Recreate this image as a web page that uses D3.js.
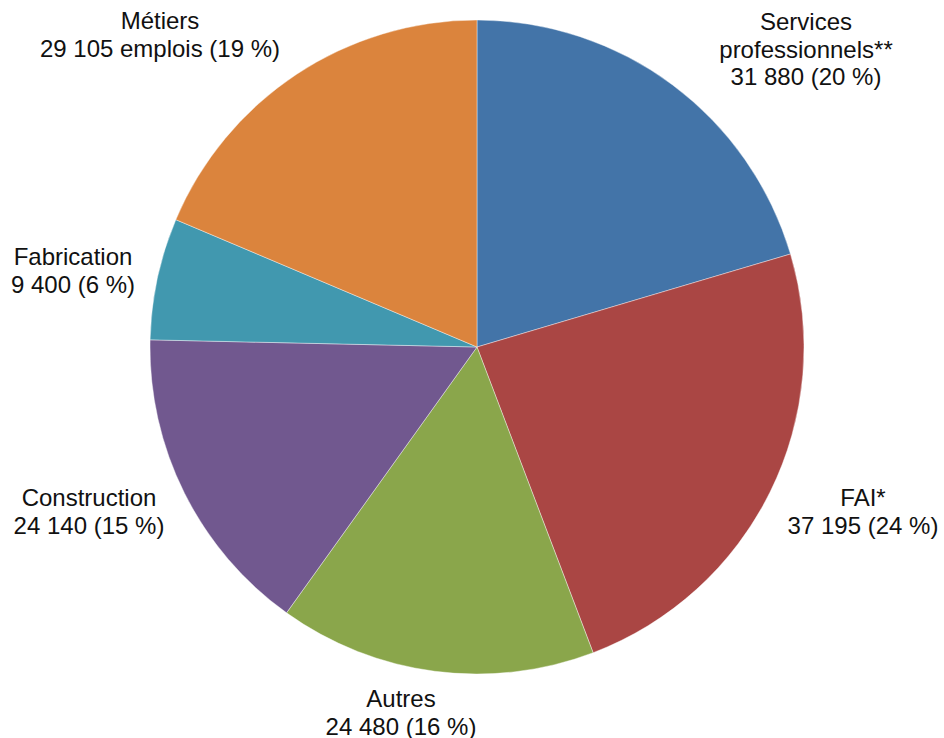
<!DOCTYPE html>
<html lang="fr">
<head>
<meta charset="utf-8">
<title>Emplois par secteur</title>
<style>
body { margin:0; background:#fff; }
svg { display:block; }
.lbl { font-family: "Liberation Sans", Arial, sans-serif; font-size:24px; fill:#111; }
</style>
</head>
<body>
<svg width="944" height="738"></svg>
<script src="https://cdn.jsdelivr.net/npm/d3@7"></script>
<script>

// slices, clockwise from 12 o'clock
var categories = ["Services professionnels**", "FAI*", "Autres", "Construction", "Fabrication", "Métiers"];
var values = [31880, 37195, 24480, 24140, 9400, 29105];
var percents = [20, 24, 16, 15, 6, 19];
var colours = ["#4374A8", "#AA4644", "#8AA64B", "#71588F", "#4198AF", "#DB843D"];

// label text lines
var labelLines = [
  ["Services", "professionnels**", "31 880 (20 %)"],
  ["FAI*", "37 195 (24 %)"],
  ["Autres", "24 480 (16 %)"],
  ["Construction", "24 140 (15 %)"],
  ["Fabrication", "9 400 (6 %)"],
  ["Métiers", "29 105 emplois (19 %)"]
];

// label centre (x) and first baseline (y)
var labelPos = [[806, 30], [863, 506], [401, 707], [89, 506], [73, 265], [160, 29]];

var svg = d3.select("svg"),
    cx = 477, cy = 347, radius = 327;

var data = categories.map(function(c, i) { return {name: c, value: values[i], i: i}; });

var pie = d3.pie()
    .value(function(d) { return d.value; })
    .sort(null);

var arc = d3.arc()
    .innerRadius(0)
    .outerRadius(radius);

var g = svg.append("g")
    .attr("transform", "translate(" + cx + "," + cy + ")");

g.selectAll("path")
  .data(pie(data))
  .enter().append("path")
    .attr("d", arc)
    .attr("fill", function(d) { return colours[d.data.i]; })
    .attr("stroke", "#fff")
    .attr("stroke-width", 0.4);

var lineH = 27.5;

labelLines.forEach(function(lines, i) {
  var t = svg.append("text")
      .attr("class", "lbl")
      .attr("text-anchor", "middle")
      .attr("x", labelPos[i][0])
      .attr("y", labelPos[i][1]);
  lines.forEach(function(l, k) {
    t.append("tspan")
      .attr("x", labelPos[i][0])
      .attr("dy", k == 0 ? 0 : lineH)
      .text(l);
  });
});

</script>
</body>
</html>
